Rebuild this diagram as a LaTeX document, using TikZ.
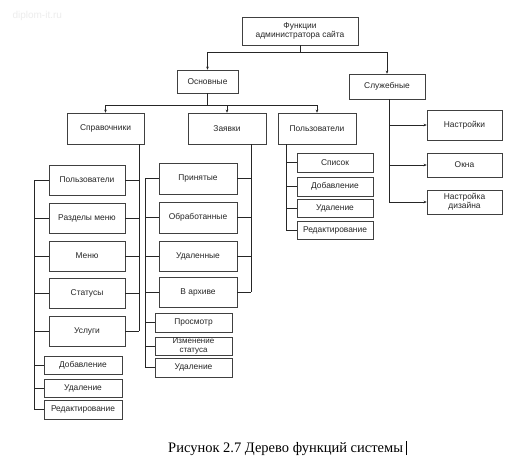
\documentclass[tikz,border=0pt]{standalone}
\usepackage{fontspec}
\setmainfont{Liberation Sans}
\newfontfamily\capfont{Liberation Serif}
\usetikzlibrary{arrows.meta}
\begin{document}
\begin{tikzpicture}[x=1pt,y=-1pt,
  box/.style={draw=black!75, line width=0.6pt, rectangle, inner sep=0pt, align=center,
     font=\fontsize{8.4}{9.4}\selectfont, text=black!85},
  conn/.style={draw=black!85, line width=0.65pt},
  arr/.style={conn, -{Stealth[length=3pt,width=2.6pt]}}]
\useasboundingbox (0,0) rectangle (516,460);
\fill[white] (0,0) rectangle (516,460);
\node[font=\fontsize{10}{10}\selectfont, text=black!7, anchor=west] (wm) at (9,16) {diplom-it.ru};
% level 0-1
\node[box, minimum width=116, minimum height=28] (top) at (300,31) {Функции\\администратора сайта};
\node[box, minimum width=61, minimum height=23] (osn) at (207.5,81.5) {Основные};
\node[box, minimum width=76, minimum height=25] (slu) at (387,86.5) {Служебные};
% level 2
\node[box, minimum width=77, minimum height=31] (spr) at (105.5,128.5) {Справочники};
\node[box, minimum width=78, minimum height=31] (zay) at (227,128.5) {Заявки};
\node[box, minimum width=78, minimum height=31] (pol) at (317,128.5) {Пользователи};
% Справочники children
\node[box, minimum width=76, minimum height=30] (s1) at (87,180) {Пользователи};
\node[box, minimum width=76, minimum height=30] (s2) at (87,218) {Разделы меню};
\node[box, minimum width=76, minimum height=30] (s3) at (87,256) {Меню};
\node[box, minimum width=76, minimum height=30] (s4) at (87,293) {Статусы};
\node[box, minimum width=76, minimum height=30] (s5) at (87,331) {Услуги};
\node[box, minimum width=78, minimum height=18] (s6) at (83,365) {Добавление};
\node[box, minimum width=78, minimum height=18] (s7) at (83,388) {Удаление};
\node[box, minimum width=78, minimum height=19] (s8) at (83,409.5) {Редактирование};
% Заявки children
\node[box, minimum width=78, minimum height=31] (z1) at (198,178.5) {Принятые};
\node[box, minimum width=78, minimum height=31] (z2) at (198,217.5) {Обработанные};
\node[box, minimum width=78, minimum height=30] (z3) at (198,256) {Удаленные};
\node[box, minimum width=78, minimum height=30] (z4) at (198,292) {В архиве};
\node[box, minimum width=77, minimum height=19] (z5) at (193.5,322.5) {Просмотр};
\node[box, minimum width=77, minimum height=18, font=\fontsize{8}{8.2}\selectfont] (z6) at (193.5,346) {Изменение\\статуса};
\node[box, minimum width=77, minimum height=19] (z7) at (193.5,367.5) {Удаление};
% Пользователи children
\node[box, minimum width=76, minimum height=19] (p1) at (335,162.5) {Список};
\node[box, minimum width=76, minimum height=19] (p2) at (335,186.5) {Добавление};
\node[box, minimum width=76, minimum height=18] (p3) at (335,208) {Удаление};
\node[box, minimum width=76, minimum height=18] (p4) at (335,230) {Редактирование};
% Служебные children
\node[box, minimum width=75, minimum height=30] (c1) at (464.5,125) {Настройки};
\node[box, minimum width=75, minimum height=24] (c2) at (464.5,165) {Окна};
\node[box, minimum width=75, minimum height=24] (c3) at (464.5,202) {Настройка\\дизайна};
% connectors top
\coordinate (j1) at (300,52);
\draw[conn] (top.south) -- (j1);
\draw[arr] (j1) -| (osn.north);
\draw[arr] (j1) -| (slu.north);
\coordinate (j2) at (207.5,105);
\draw[conn] (osn.south) -- (j2);
\draw[arr] (j2) -| (spr.north);
\draw[arr] (j2) -| (zay.north);
\draw[arr] (j2) -| (pol.north);
% Справочники
\coordinate (sL) at (34,0);
\coordinate (sR) at (139,0);
\draw[conn] (sR |- spr.south) -- (s5.east -| sR);
\foreach \n in {s1,s2,s3,s4,s5} {\draw[conn] (\n.east) -- (\n.east -| sR);}
\draw[conn] (s1.west -| sL) -- (s8.west -| sL);
\foreach \n in {s1,s2,s3,s4,s5,s6,s7,s8} {\draw[conn] (\n.west) -- (\n.west -| sL);}
% Заявки
\coordinate (zL) at (145,0);
\coordinate (zR) at (251,0);
\draw[conn] (zR |- zay.south) -- (z4.east -| zR);
\foreach \n in {z1,z2,z3,z4} {\draw[conn] (\n.east) -- (\n.east -| zR);}
\draw[conn] (z1.west -| zL) -- (z7.west -| zL);
\foreach \n in {z1,z2,z3,z4,z5,z6,z7} {\draw[conn] (\n.west) -- (\n.west -| zL);}
% Пользователи
\coordinate (pL) at (286,0);
\draw[conn] (pL |- pol.south) -- (p4.west -| pL);
\foreach \n in {p1,p2,p3,p4} {\draw[conn] (\n.west) -- (\n.west -| pL);}
% Служебные
\coordinate (cL) at (389,0);
\draw[conn] (cL |- slu.south) -- (c3.west -| cL);
\foreach \n in {c1,c2,c3} {\draw[arr] (\n.west -| cL) -- (\n.west);}
% caption
\node[anchor=base west, inner sep=0pt, font=\capfont\fontsize{14.5}{15}\selectfont] (cap) at (168,452) {Рисунок 2.7 Дерево функций системы};
\draw[line width=1.4pt] ([xshift=3pt]cap.base east) ++(0,3) -- ++(0,-14);
\end{tikzpicture}
\end{document}
